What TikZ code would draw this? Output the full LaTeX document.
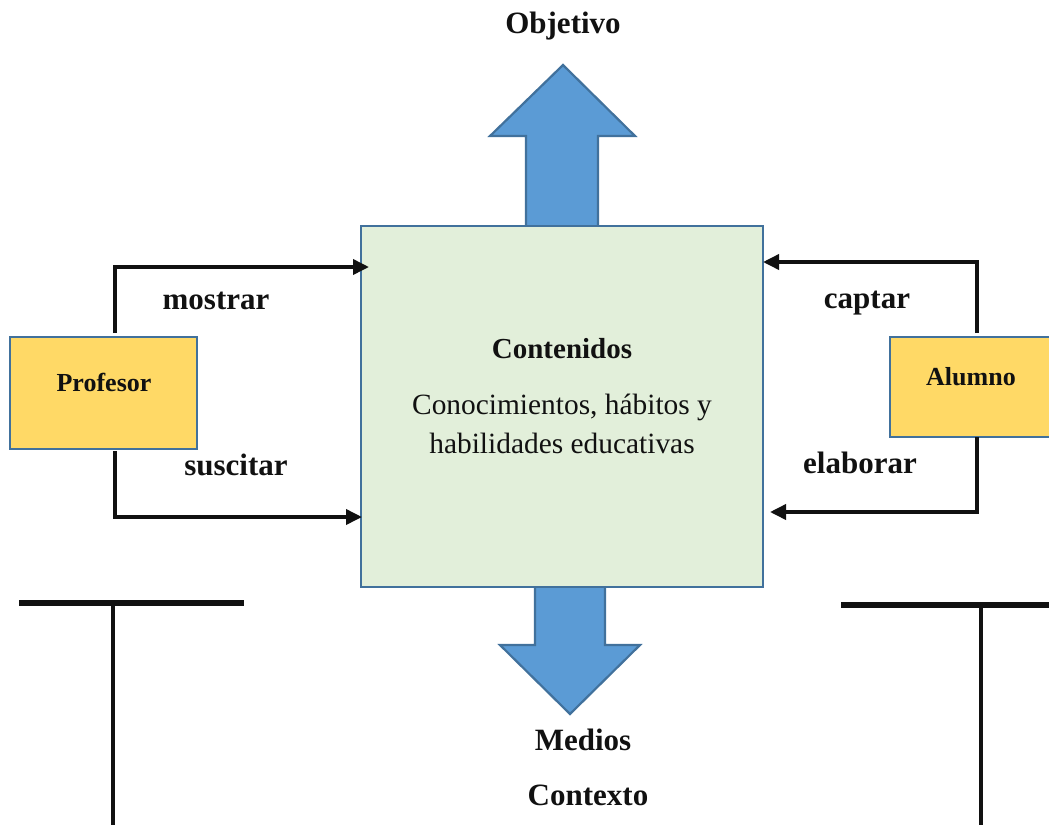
\documentclass[tikz,border=0pt]{standalone}
\usepackage{fontspec}
\setmainfont{Liberation Serif}
\usetikzlibrary{arrows.meta,calc}
\definecolor{arrowblue}{HTML}{5B9BD5}
\definecolor{edgeblue}{HTML}{41719C}
\definecolor{boxgreen}{HTML}{E2EFDA}
\definecolor{boxyellow}{HTML}{FFD966}
\definecolor{txt}{HTML}{111111}
\begin{document}
\begin{tikzpicture}[x=1pt,y=-1pt,
  bigarrow/.style={fill=arrowblue,draw=edgeblue,line width=2.2pt,line join=miter},
  mainbox/.style={draw=edgeblue,fill=boxgreen,line width=2pt,minimum width=402pt,minimum height=361pt,inner sep=0pt},
  actor/.style={draw=edgeblue,fill=boxyellow,line width=2pt,inner sep=0pt},
  conn/.style={line width=3.6pt,txt,-{Triangle[length=16pt,width=15pt]}},
  lbl/.style={anchor=base,text=txt,font=\fontsize{31}{36}\selectfont\bfseries,inner sep=0pt},
  small/.style={font=\fontsize{26}{30}\selectfont\bfseries,text=txt,inner sep=0pt,anchor=base},
  body/.style={font=\fontsize{29.4}{36}\selectfont,text=txt,inner sep=0pt,anchor=base},
  bar/.style={line width=5.5pt,txt},
  stem/.style={line width=4pt,txt}]
\useasboundingbox (0,0) rectangle (1049,825);
% big arrows (behind main box)
\draw[bigarrow] (526,232) -- (526,136) -- (490,136) -- (563,65) -- (635,136) -- (598,136) -- (598,232) -- cycle;
\draw[bigarrow] (535,582) -- (535,645) -- (500,645) -- (570,714) -- (640,645) -- (605,645) -- (605,582) -- cycle;
% main box
\node[mainbox] (main) at (562,406.5) {};
\node[lbl,font=\fontsize{29}{34}\selectfont\bfseries] (cont) at (562,358) {Contenidos};
\node[body] (con1) at (562,414) {Conocimientos, hábitos y};
\node[body] (con2) at (562,453) {habilidades educativas};
% actors
\node[actor,minimum width=187pt,minimum height=112pt] (prof) at (103.5,393) {};
\node[small] (proft) at (104,391) {Profesor};
\node[actor,minimum width=175pt,minimum height=100pt] (alum) at (977.5,387) {};
\node[small] (alumt) at (971,385) {Alumno};
% connector end points
\coordinate (p1) at (115,333);
\coordinate (m1) at (369,267);
\coordinate (p2) at (115,451);
\coordinate (m2) at (362,517);
\coordinate (a1) at (977,333);
\coordinate (m3) at (763,262);
\coordinate (a2) at (977,437);
\coordinate (m4) at (770,512);
\draw[conn] (p1) |- (m1);
\draw[conn] (p2) |- (m2);
\draw[conn] (a1) |- (m3);
\draw[conn] (a2) |- (m4);
% labels
\node[lbl] (mostrar) at (216,309) {mostrar};
\node[lbl] (suscitar) at (236,475) {suscitar};
\node[lbl] (captar) at (867,308) {captar};
\node[lbl] (elaborar) at (860,473) {elaborar};
\node[lbl] (obj) at (563,33) {Objetivo};
\node[lbl] (medios) at (583,750) {Medios};
\node[lbl] (contexto) at (588,805) {Contexto};
% T bars at the bottom
\coordinate (l1) at (19,603);
\coordinate (l2) at (244,603);
\coordinate (l3) at (113,603);
\coordinate (l4) at (113,825);
\coordinate (r1) at (841,605);
\coordinate (r2) at (1049,605);
\coordinate (r3) at (981,605);
\coordinate (r4) at (981,825);
\draw[bar] (l1) -- (l2);
\draw[stem] (l3) -- (l4);
\draw[bar] (r1) -- (r2);
\draw[stem] (r3) -- (r4);
\end{tikzpicture}
\end{document}
